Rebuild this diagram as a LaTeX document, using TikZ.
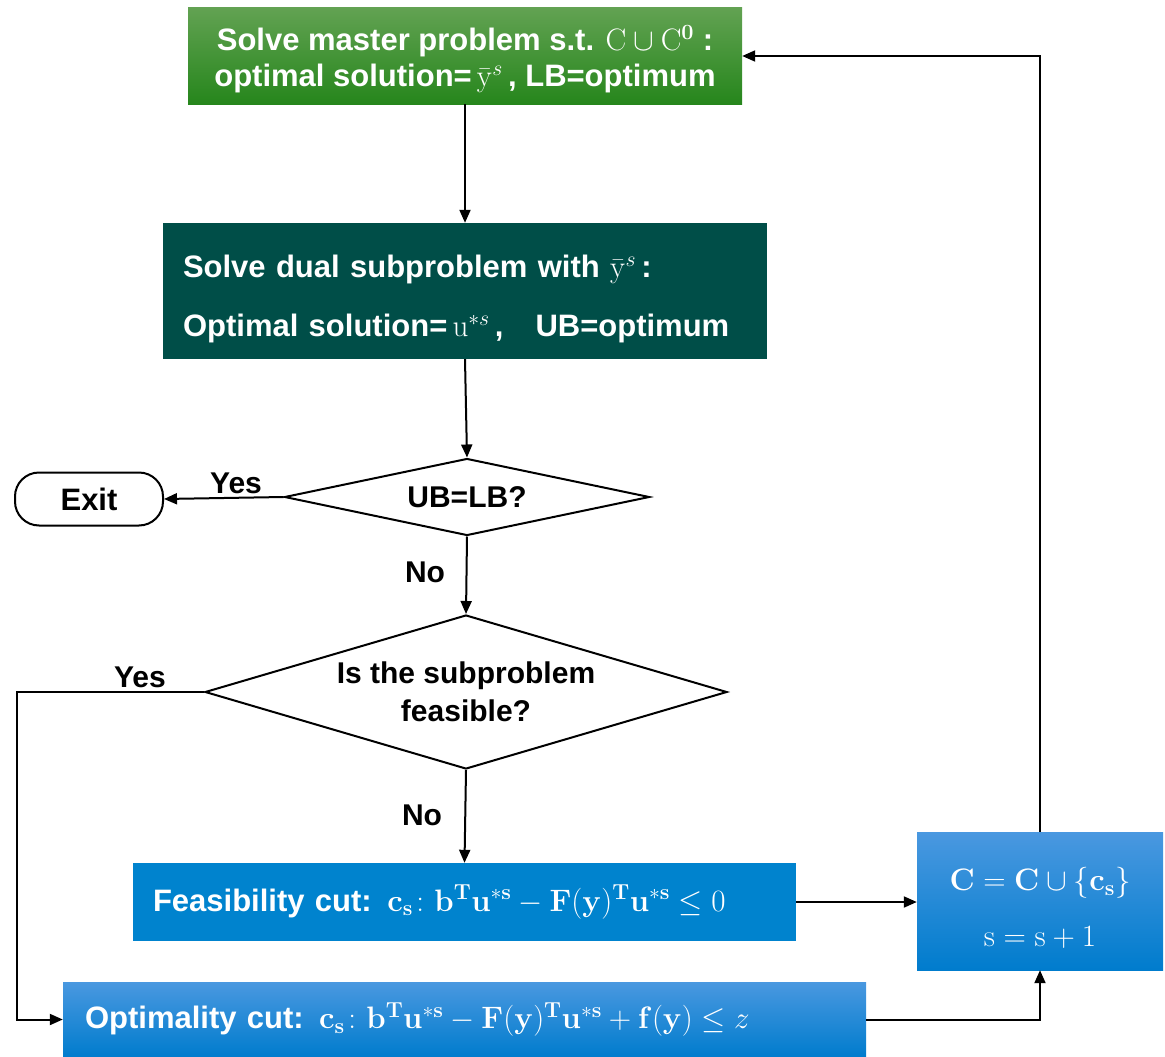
\RequirePackage{fix-cm}
\documentclass[tikz,border=0pt]{standalone}
\usepackage[no-math]{fontspec}
\setmainfont{Liberation Sans}
\usepackage{amsmath}
\usetikzlibrary{shapes.geometric,arrows.meta}
\definecolor{gtop}{RGB}{98,162,82}
\definecolor{gbot}{RGB}{38,134,28}
\definecolor{dteal}{RGB}{0,78,72}
\definecolor{fblue}{RGB}{0,131,206}
\definecolor{btop}{RGB}{74,152,224}
\definecolor{bbot}{RGB}{0,124,205}
\begin{document}
\begin{tikzpicture}[x=1pt,y=-1pt,
  box/.style={rectangle, draw=none, text=white, font=\fontsize{31}{36}\selectfont\bfseries, inner sep=0pt},
  dia/.style={diamond, draw=black, line width=2pt, fill=white, inner sep=0pt, font=\fontsize{30}{38}\selectfont\bfseries, align=center},
  arr/.style={line width=2pt, -{Triangle[length=13pt,width=11pt]}},
  lab/.style={font=\fontsize{30}{36}\selectfont\bfseries, inner sep=0pt}]
\useasboundingbox (0,0) rectangle (1165,1057);

\node[box, top color=gtop, bottom color=gbot, minimum width=554pt, minimum height=96pt, align=center]
  (m) at (465,56) {\rule{0pt}{31pt}Solve master problem s.t. $\mathrm{C}\cup\mathrm{C}^{\mathbf{0}}$ :\\optimal solution=\,$\bar{\mathrm{y}}^{s}$\,, LB=optimum};

\node[box, fill=dteal, minimum width=604pt, minimum height=136pt, text width=564pt, inner xsep=20pt, align=left, font=\fontsize{31}{59}\selectfont\bfseries]
  (d) at (465,291) {\rule{0pt}{38pt}Solve dual subproblem with $\bar{\mathrm{y}}^{s}$\,:\\Optimal solution=\,$\mathrm{u}^{*s}$\,,\hspace{32pt}UB=optimum};

\node[dia, aspect=4.74, minimum width=365pt, minimum height=77pt] (d1) at (467,497) {UB=LB?};

\node[draw=black, line width=2pt, rounded corners=24pt, fill=white, minimum width=148pt, minimum height=53pt, inner sep=0pt, font=\fontsize{31}{36}\selectfont\bfseries]
  (ex) at (89,499) {Exit};

\node[dia, aspect=3.39, minimum width=522pt, minimum height=154pt] (d2) at (466,692) {Is the subproblem\\feasible?};

\node[box, fill=fblue, minimum width=663pt, minimum height=78pt, text width=623pt, inner xsep=20pt, align=left]
  (f) at (464.5,902) {Feasibility cut: $\mathbf{c}_{\mathbf{s}}\colon\mathbf{b}^{\mathbf{T}}\mathbf{u}^{*\mathbf{s}}-\mathbf{F}(\mathbf{y})^{\mathbf{T}}\mathbf{u}^{*\mathbf{s}}\leq 0$};

\node[box, top color=btop, bottom color=bbot, minimum width=803pt, minimum height=75pt, text width=759pt, inner xsep=22pt, align=left]
  (o) at (464.5,1019.5) {Optimality cut: $\mathbf{c}_{\mathbf{s}}\colon\mathbf{b}^{\mathbf{T}}\mathbf{u}^{*\mathbf{s}}-\mathbf{F}(\mathbf{y})^{\mathbf{T}}\mathbf{u}^{*\mathbf{s}}+\mathbf{f}(\mathbf{y})\leq z$};

\node[box, top color=btop, bottom color=bbot, minimum width=246pt, minimum height=138pt, align=center, font=\fontsize{31}{56}\selectfont]
  (u) at (1040,901) {\rule{0pt}{37pt}$\mathbf{C}=\mathbf{C}\cup\{\mathbf{c}_{\mathbf{s}}\}$\\$\mathrm{s}=\mathrm{s}+1$};

\draw[arr] (m.south) -- (d.north);
\draw[arr] (d.south) -- (d1.north);
\draw[arr] (d1.west) -- (ex.east);
\node[lab] (y1) at (236,483) {Yes};
\draw[arr] (d1.south) -- (d2.north);
\node[lab] (n1) at (425,572) {No};
\coordinate (lc) at (17,692);
\draw[arr] (d2.west) -- (lc) |- (o.west);
\node[lab] (y2) at (140,677) {Yes};
\draw[arr] (d2.south) -- (f.north);
\node[lab] (n2) at (422,815) {No};
\draw[arr] (f.east) -- (f.east -| u.west);
\draw[arr] (o.east) -| (u.south);
\draw[arr] (u.north) |- (m.east);
\end{tikzpicture}
\end{document}
